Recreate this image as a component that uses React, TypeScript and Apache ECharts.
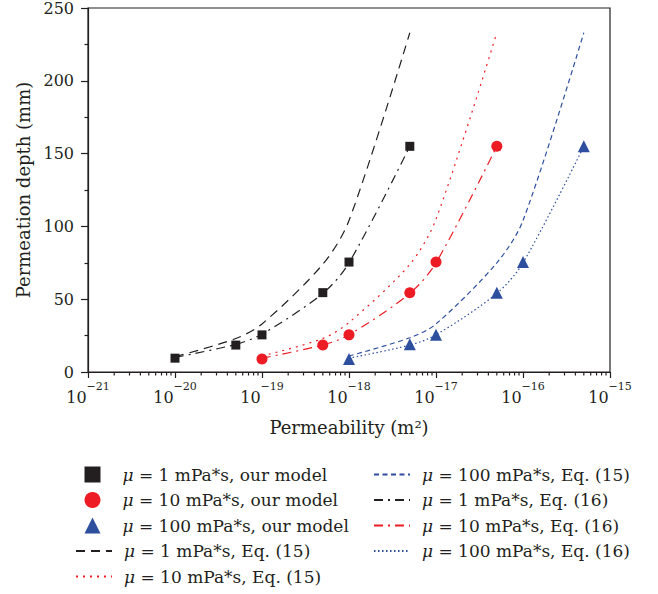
import React, { useEffect, useRef } from 'react';
import * as echarts from 'echarts';

// Permeability values (m^2) for each viscosity
const permeabilityMu1 = [1e-20, 5e-20, 1e-19, 5e-19, 1e-18, 5e-18];
const permeabilityMu10 = [1e-19, 5e-19, 1e-18, 5e-18, 1e-17, 5e-17];
const permeabilityMu100 = [1e-18, 5e-18, 1e-17, 5e-17, 1e-16, 5e-16];

// Our model (markers), permeation depth in mm
const modelDepthMu1 = [9.5, 18.5, 25.5, 54.5, 75.5, 155];
const modelDepthMu10 = [9, 18.5, 25.5, 54.5, 75.5, 155];
const modelDepthMu100 = [9, 19, 25.5, 54.5, 75.5, 155];

// Eq. (15)
const eq15DepthMu1 = [10.5, 23, 33, 74, 104, 233];
const eq15DepthMu10 = [11, 23, 34, 74, 105, 233];
const eq15DepthMu100 = [11, 23.5, 33, 75, 104, 233];

// Eq. (16)
const eq16DepthMu1 = [10, 19, 26, 54, 75, 155];
const eq16DepthMu10 = [9.5, 18.5, 25.5, 54, 75, 155];
const eq16DepthMu100 = [9.5, 18.5, 25.5, 54, 75, 155];

// Axis ticks: decade exponents (labels are 10^exp) and minor multipliers
const decadeExponents = [-21, -20, -19, -18, -17, -16, -15];
const minorMultipliers = [2, 3, 4, 5, 6, 7, 8, 9];

const names = {
  m1: 'μ = 1 mPa*s, our model',
  m10: 'μ = 10 mPa*s, our model',
  m100: 'μ = 100 mPa*s, our model',
  e15_1: 'μ = 1 mPa*s, Eq. (15)',
  e15_10: 'μ = 10 mPa*s, Eq. (15)',
  e15_100: 'μ = 100 mPa*s, Eq. (15)',
  e16_1: 'μ = 1 mPa*s, Eq. (16)',
  e16_10: 'μ = 10 mPa*s, Eq. (16)',
  e16_100: 'μ = 100 mPa*s, Eq. (16)',
};

const BLACK = '#231f20';
const RED = '#ed1c24';
const BLUE = '#2d4f9e';
const FONT = 'DejaVu Serif';

// log10 transform: the x axis is a value axis in decades
const pair = (xs: number[], ys: number[]) => xs.map((x, i) => [Math.log10(x), ys[i]]);

export default function App() {
  const ref = useRef<HTMLDivElement>(null);
  useEffect(() => {
    if (!ref.current) return;
    const chart = echarts.init(ref.current, undefined, { renderer: 'svg' });

    const minorTickData: number[][] = [];
    decadeExponents.slice(0, -1).forEach((e) =>
      minorMultipliers.forEach((m) => minorTickData.push([e + Math.log10(m), 0]))
    );

    const lineSeries = (name: string, xs: number[], ys: number[], color: string, dash: number[], width = 1.2) => ({
      name,
      type: 'line',
      data: pair(xs, ys),
      symbol: 'none',
      smooth: 0.3,
      lineStyle: { color, width, type: dash },
      itemStyle: { color },
      z: 2,
    });
    const scatterSeries = (name: string, xs: number[], ys: number[], color: string, symbol: string, size: number) => ({
      name,
      type: 'scatter',
      data: pair(xs, ys),
      symbol,
      symbolSize: size,
      itemStyle: { color, opacity: 1 },
      z: 5,
    });

    const FS = 17;
    const ITEM_H = 16;
    const makeRich = (pad: number) => ({
      i: { fontFamily: FONT, fontSize: FS, fontStyle: 'italic', color: BLACK, padding: [0, 0, 0, pad] },
      n: { fontFamily: FONT, fontSize: FS, color: BLACK },
    });
    const rowCenters = [475, 500.5, 526, 551.5, 577];
    const legendItem = (name: string, left: number, row: number, isMarker: boolean) => {
      const l: any = {
        orient: 'vertical',
        padding: 0,
        selectedMode: false,
        left,
        top: rowCenters[row] - FS / 2 - 0.5,
        itemWidth: isMarker ? 16 : 36,
        itemHeight: ITEM_H,
        formatter: (n: string) => `{i|${n.slice(0, 1)}}{n|${n.slice(1)}}`,
        textStyle: { fontFamily: FONT, fontSize: FS, color: BLACK, rich: makeRich(isMarker ? 17 : 7) },
        data: [name],
      };
      if (!isMarker) l.itemStyle = { opacity: 0 };
      return l;
    };

    chart.setOption({
      animation: false,
      backgroundColor: '#ffffff',
      grid: {
        left: 88,
        top: 7,
        right: 48,
        bottom: 222,
        show: true,
        borderColor: BLACK,
        borderWidth: 1.2,
        backgroundColor: 'transparent',
      },
      legend: [
        legendItem(names.m1, 84.5, 0, true),
        legendItem(names.m10, 84.5, 1, true),
        legendItem(names.m100, 84.5, 2, true),
        legendItem(names.e15_1, 75, 3, false),
        legendItem(names.e15_10, 75, 4, false),
        legendItem(names.e15_100, 373, 0, false),
        legendItem(names.e16_1, 373, 1, false),
        legendItem(names.e16_10, 373, 2, false),
        legendItem(names.e16_100, 373, 3, false),
      ],
      xAxis: {
        type: 'value',
        min: -21,
        max: -15,
        interval: 1,
        name: 'Permeability (m²)',
        nameLocation: 'middle',
        nameGap: 46,
        nameTextStyle: { fontFamily: FONT, fontSize: 18, color: BLACK },
        axisLine: { show: true, onZero: false, lineStyle: { color: BLACK, width: 1.2 } },
        axisTick: { show: true, inside: false, length: 6, lineStyle: { color: BLACK, width: 1.2 } },
        minorTick: { show: false },
        splitLine: { show: false },
        axisLabel: {
          margin: 9,
          color: BLACK,
          formatter: (v: number) => {
            const e = Math.round(v);
            return `{b|10}{s|${e < 0 ? '−' : ''}${Math.abs(e)}}`;
          },
          rich: {
            b: { fontFamily: FONT, fontSize: 16, color: BLACK, verticalAlign: 'bottom', lineHeight: 24 },
            s: { fontFamily: FONT, fontSize: 11, color: BLACK, verticalAlign: 'top', lineHeight: 14 },
          },
        },
      },
      yAxis: {
        type: 'value',
        min: 0,
        max: 250,
        interval: 50,
        name: 'Permeation depth (mm)',
        nameLocation: 'middle',
        nameGap: 54,
        nameTextStyle: { fontFamily: FONT, fontSize: 18, color: BLACK },
        axisLine: { show: true, lineStyle: { color: BLACK, width: 1.2 } },
        axisTick: { show: true, inside: false, length: 7, lineStyle: { color: BLACK, width: 1.2 } },
        minorTick: { show: true, splitNumber: 2, length: 3.5, lineStyle: { color: BLACK, width: 1.2 } },
        splitLine: { show: false },
        axisLabel: { margin: 14, fontFamily: FONT, fontSize: 16, color: BLACK },
      },
      series: [
        scatterSeries(names.m1, permeabilityMu1, modelDepthMu1, BLACK, 'rect', 9),
        scatterSeries(names.m10, permeabilityMu10, modelDepthMu10, RED, 'circle', 11),
        scatterSeries(names.m100, permeabilityMu100, modelDepthMu100, BLUE, 'triangle', 12),
        lineSeries(names.e15_1, permeabilityMu1, eq15DepthMu1, BLACK, [9, 6]),
        lineSeries(names.e15_10, permeabilityMu10, eq15DepthMu10, RED, [2, 5]),
        lineSeries(names.e15_100, permeabilityMu100, eq15DepthMu100, BLUE, [5, 3.5]),
        lineSeries(names.e16_1, permeabilityMu1, eq16DepthMu1, BLACK, [9, 5, 2, 5]),
        lineSeries(names.e16_10, permeabilityMu10, eq16DepthMu10, RED, [9, 5, 2, 5]),
        lineSeries(names.e16_100, permeabilityMu100, eq16DepthMu100, BLUE, [1.5, 2.5]),
        {
          name: 'minorTicks',
          type: 'custom',
          clip: false,
          silent: true,
          z: 10,
          data: minorTickData,
          encode: { x: 0, y: 1 },
          renderItem: (_p: any, api: any) => {
            const pt = api.coord([api.value(0), api.value(1)]);
            return {
              type: 'line',
              shape: { x1: pt[0], y1: pt[1], x2: pt[0], y2: pt[1] + 3.5 },
              style: { stroke: BLACK, lineWidth: 1.2 },
            };
          },
        },
      ],
    });
    return () => chart.dispose();
  }, []);
  return <div ref={ref} style={{ position: 'fixed', left: 0, top: 0, width: 658, height: 594 }} />;
}
